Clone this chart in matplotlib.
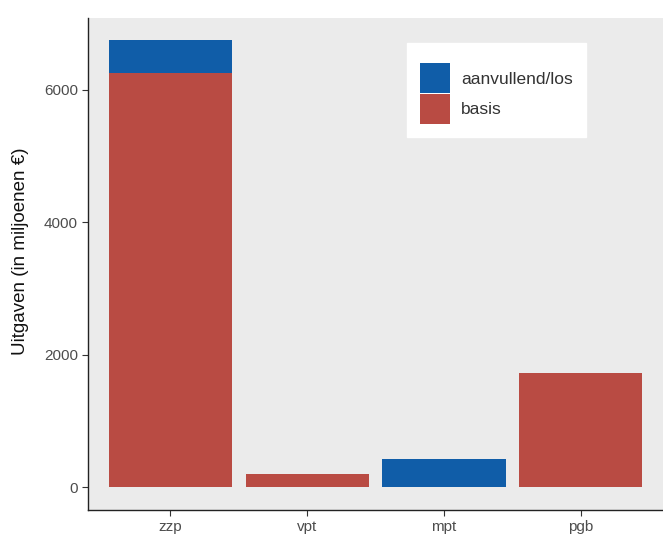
import numpy as np
import matplotlib.pyplot as plt
from matplotlib.patches import Patch

# Data
categorieen = ["zzp", "vpt", "mpt", "pgb"]
basis = [6250, 210, 0, 1720]
aanvullend = [500, 0, 430, 0]

kleur_basis = "#B94B43"
kleur_aanv = "#105DA8"

plt.rcParams['font.family'] = ['Liberation Sans', 'DejaVu Sans']

fig = plt.figure(figsize=(6.63, 5.4), dpi=100)
ax = fig.add_axes([0.133, 0.056, 0.867, 0.911])
ax.set_facecolor("#EBEBEB")

x = np.arange(len(categorieen))
ax.bar(x, basis, width=0.9, color=kleur_basis)
ax.bar(x, aanvullend, width=0.9, bottom=basis, color=kleur_aanv)

ax.set_xlim(-0.6, len(categorieen) - 0.4)
ax.set_ylim(-337, 7087)
ax.set_yticks([0, 2000, 4000, 6000])
ax.set_xticks(x)
ax.set_xticklabels(categorieen)
ax.tick_params(axis='both', colors="#333333", labelcolor="#4D4D4D", labelsize=11, length=4, width=0.8)

for s in ["top", "right"]:
    ax.spines[s].set_visible(False)
for s in ["left", "bottom"]:
    ax.spines[s].set_color("#222222")
    ax.spines[s].set_linewidth(1.0)

ax.set_ylabel("Uitgaven (in miljoenen €)", fontsize=13.5, color="#111111")
ax.yaxis.set_label_coords(-0.103, 0.525)

handles = [Patch(facecolor=kleur_aanv, label="aanvullend/los"),
           Patch(facecolor=kleur_basis, label="basis")]
leg = ax.legend(handles=handles, loc="upper left", bbox_to_anchor=(0.555, 0.949),
                title=" ", title_fontsize=5.5,
                fontsize=12.5, frameon=True, fancybox=False, edgecolor="white",
                facecolor="white", framealpha=1, handlelength=1.72, handleheight=2.28,
                labelspacing=0.02, borderpad=0.75, handletextpad=0.63, borderaxespad=0)
for t in leg.get_texts():
    t.set_color("#333333")

fig.savefig("out.png", dpi=100)
